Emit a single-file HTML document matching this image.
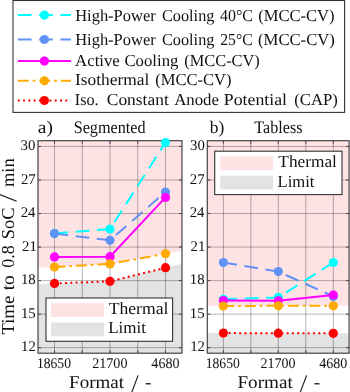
<!DOCTYPE html><html><head><meta charset="utf-8"><style>html,body{margin:0;padding:0;background:#fff;overflow:hidden;}svg{display:block;will-change:transform;}text{font-family:"Liberation Serif", serif;fill:#111;text-rendering:geometricPrecision;}</style></head><body>
<svg width="350" height="392" viewBox="0 0 350 392">
<clipPath id="cl"><rect x="38.0" y="140.7" width="144.00" height="212.50"/></clipPath>
<g clip-path="url(#cl)">
<polygon points="38.0,138.7 38.00,267.92 54.50,267.00 110.00,263.90 165.50,253.80 182.00,250.80 182.0,138.7" fill="#ffe3e4"/>
<polygon points="38.0,355.2 38.00,284.02 54.50,283.40 110.00,281.30 165.50,267.70 182.00,263.66 182.0,355.2" fill="#e3e3e3"/>
<line x1="54.50" y1="140.7" x2="54.50" y2="353.2" stroke="#000" stroke-opacity="0.3" stroke-width="1"/>
<line x1="82.25" y1="140.7" x2="82.25" y2="353.2" stroke="#000" stroke-opacity="0.3" stroke-width="1"/>
<line x1="110.00" y1="140.7" x2="110.00" y2="353.2" stroke="#000" stroke-opacity="0.3" stroke-width="1"/>
<line x1="137.75" y1="140.7" x2="137.75" y2="353.2" stroke="#000" stroke-opacity="0.3" stroke-width="1"/>
<line x1="165.50" y1="140.7" x2="165.50" y2="353.2" stroke="#000" stroke-opacity="0.3" stroke-width="1"/>
<line x1="38.0" y1="146.45" x2="182.0" y2="146.45" stroke="#000" stroke-opacity="0.3" stroke-width="1"/>
<line x1="38.0" y1="179.99" x2="182.0" y2="179.99" stroke="#000" stroke-opacity="0.3" stroke-width="1"/>
<line x1="38.0" y1="213.53" x2="182.0" y2="213.53" stroke="#000" stroke-opacity="0.3" stroke-width="1"/>
<line x1="38.0" y1="247.07" x2="182.0" y2="247.07" stroke="#000" stroke-opacity="0.3" stroke-width="1"/>
<line x1="38.0" y1="280.61" x2="182.0" y2="280.61" stroke="#000" stroke-opacity="0.3" stroke-width="1"/>
<line x1="38.0" y1="314.15" x2="182.0" y2="314.15" stroke="#000" stroke-opacity="0.3" stroke-width="1"/>
<line x1="38.0" y1="347.69" x2="182.0" y2="347.69" stroke="#000" stroke-opacity="0.3" stroke-width="1"/>
<polyline points="54.50,233.40 110.00,229.00 165.50,142.60" fill="none" stroke="#00ffff" stroke-width="2.0" stroke-dasharray="13.7 7.6"/>
<polyline points="54.50,233.60 110.00,240.30 165.50,192.00" fill="none" stroke="#6092f6" stroke-width="2.0" stroke-dasharray="13.7 7.6"/>
<polyline points="54.50,256.90 110.00,256.70 165.50,197.40" fill="none" stroke="#ff00ff" stroke-width="2.0"/>
<polyline points="54.50,267.00 110.00,263.90 165.50,253.80" fill="none" stroke="#ffaa00" stroke-width="2.0" stroke-dasharray="10.9 4.0 2.6 4.0"/>
<polyline points="54.50,283.40 110.00,281.30 165.50,267.70" fill="none" stroke="#ff0000" stroke-width="2.0" stroke-dasharray="2 3.27"/>
</g>
<line x1="54.50" y1="140.7" x2="54.50" y2="143.7" stroke="#444" stroke-width="1"/>
<line x1="54.50" y1="353.2" x2="54.50" y2="350.2" stroke="#444" stroke-width="1"/>
<line x1="82.25" y1="140.7" x2="82.25" y2="143.7" stroke="#444" stroke-width="1"/>
<line x1="82.25" y1="353.2" x2="82.25" y2="350.2" stroke="#444" stroke-width="1"/>
<line x1="110.00" y1="140.7" x2="110.00" y2="143.7" stroke="#444" stroke-width="1"/>
<line x1="110.00" y1="353.2" x2="110.00" y2="350.2" stroke="#444" stroke-width="1"/>
<line x1="137.75" y1="140.7" x2="137.75" y2="143.7" stroke="#444" stroke-width="1"/>
<line x1="137.75" y1="353.2" x2="137.75" y2="350.2" stroke="#444" stroke-width="1"/>
<line x1="165.50" y1="140.7" x2="165.50" y2="143.7" stroke="#444" stroke-width="1"/>
<line x1="165.50" y1="353.2" x2="165.50" y2="350.2" stroke="#444" stroke-width="1"/>
<line x1="38.0" y1="146.45" x2="41.0" y2="146.45" stroke="#444" stroke-width="1"/>
<line x1="182.0" y1="146.45" x2="179.0" y2="146.45" stroke="#444" stroke-width="1"/>
<line x1="38.0" y1="179.99" x2="41.0" y2="179.99" stroke="#444" stroke-width="1"/>
<line x1="182.0" y1="179.99" x2="179.0" y2="179.99" stroke="#444" stroke-width="1"/>
<line x1="38.0" y1="213.53" x2="41.0" y2="213.53" stroke="#444" stroke-width="1"/>
<line x1="182.0" y1="213.53" x2="179.0" y2="213.53" stroke="#444" stroke-width="1"/>
<line x1="38.0" y1="247.07" x2="41.0" y2="247.07" stroke="#444" stroke-width="1"/>
<line x1="182.0" y1="247.07" x2="179.0" y2="247.07" stroke="#444" stroke-width="1"/>
<line x1="38.0" y1="280.61" x2="41.0" y2="280.61" stroke="#444" stroke-width="1"/>
<line x1="182.0" y1="280.61" x2="179.0" y2="280.61" stroke="#444" stroke-width="1"/>
<line x1="38.0" y1="314.15" x2="41.0" y2="314.15" stroke="#444" stroke-width="1"/>
<line x1="182.0" y1="314.15" x2="179.0" y2="314.15" stroke="#444" stroke-width="1"/>
<line x1="38.0" y1="347.69" x2="41.0" y2="347.69" stroke="#444" stroke-width="1"/>
<line x1="182.0" y1="347.69" x2="179.0" y2="347.69" stroke="#444" stroke-width="1"/>
<rect x="38.0" y="140.7" width="144.00" height="212.50" fill="none" stroke="#444" stroke-width="1.2"/>
<circle cx="54.50" cy="233.40" r="4.6" fill="#00ffff"/>
<circle cx="110.00" cy="229.00" r="4.6" fill="#00ffff"/>
<circle cx="165.50" cy="142.60" r="4.6" fill="#00ffff"/>
<circle cx="54.50" cy="233.60" r="4.6" fill="#6092f6"/>
<circle cx="110.00" cy="240.30" r="4.6" fill="#6092f6"/>
<circle cx="165.50" cy="192.00" r="4.6" fill="#6092f6"/>
<circle cx="54.50" cy="256.90" r="4.6" fill="#ff00ff"/>
<circle cx="110.00" cy="256.70" r="4.6" fill="#ff00ff"/>
<circle cx="165.50" cy="197.40" r="4.6" fill="#ff00ff"/>
<circle cx="54.50" cy="267.00" r="4.6" fill="#ffaa00"/>
<circle cx="110.00" cy="263.90" r="4.6" fill="#ffaa00"/>
<circle cx="165.50" cy="253.80" r="4.6" fill="#ffaa00"/>
<circle cx="54.50" cy="283.40" r="4.6" fill="#ff0000"/>
<circle cx="110.00" cy="281.30" r="4.6" fill="#ff0000"/>
<circle cx="165.50" cy="267.70" r="4.6" fill="#ff0000"/>
<clipPath id="cr"><rect x="207.3" y="140.7" width="141.80" height="212.50"/></clipPath>
<g clip-path="url(#cr)">
<polygon points="207.3,138.7 207.30,306.06 223.40,306.00 278.30,305.80 333.30,305.80 349.10,305.80 349.1,138.7" fill="#ffe3e4"/>
<polygon points="207.3,355.2 207.30,333.07 223.40,333.10 278.30,333.20 333.30,333.30 349.10,333.33 349.1,355.2" fill="#e3e3e3"/>
<line x1="223.40" y1="140.7" x2="223.40" y2="353.2" stroke="#000" stroke-opacity="0.3" stroke-width="1"/>
<line x1="250.85" y1="140.7" x2="250.85" y2="353.2" stroke="#000" stroke-opacity="0.3" stroke-width="1"/>
<line x1="278.30" y1="140.7" x2="278.30" y2="353.2" stroke="#000" stroke-opacity="0.3" stroke-width="1"/>
<line x1="305.80" y1="140.7" x2="305.80" y2="353.2" stroke="#000" stroke-opacity="0.3" stroke-width="1"/>
<line x1="333.30" y1="140.7" x2="333.30" y2="353.2" stroke="#000" stroke-opacity="0.3" stroke-width="1"/>
<line x1="207.3" y1="146.45" x2="349.1" y2="146.45" stroke="#000" stroke-opacity="0.3" stroke-width="1"/>
<line x1="207.3" y1="179.99" x2="349.1" y2="179.99" stroke="#000" stroke-opacity="0.3" stroke-width="1"/>
<line x1="207.3" y1="213.53" x2="349.1" y2="213.53" stroke="#000" stroke-opacity="0.3" stroke-width="1"/>
<line x1="207.3" y1="247.07" x2="349.1" y2="247.07" stroke="#000" stroke-opacity="0.3" stroke-width="1"/>
<line x1="207.3" y1="280.61" x2="349.1" y2="280.61" stroke="#000" stroke-opacity="0.3" stroke-width="1"/>
<line x1="207.3" y1="314.15" x2="349.1" y2="314.15" stroke="#000" stroke-opacity="0.3" stroke-width="1"/>
<line x1="207.3" y1="347.69" x2="349.1" y2="347.69" stroke="#000" stroke-opacity="0.3" stroke-width="1"/>
<polyline points="223.40,299.30 278.30,297.40 333.30,262.50" fill="none" stroke="#00ffff" stroke-width="2.0" stroke-dasharray="13.7 7.6"/>
<polyline points="223.40,262.60 278.30,271.60 333.30,296.40" fill="none" stroke="#6092f6" stroke-width="2.0" stroke-dasharray="13.7 7.6"/>
<polyline points="223.40,300.50 278.30,300.80 333.30,295.00" fill="none" stroke="#ff00ff" stroke-width="2.0"/>
<polyline points="223.40,306.00 278.30,305.80 333.30,305.80" fill="none" stroke="#ffaa00" stroke-width="2.0" stroke-dasharray="10.9 4.0 2.6 4.0"/>
<polyline points="223.40,333.10 278.30,333.20 333.30,333.30" fill="none" stroke="#ff0000" stroke-width="2.0" stroke-dasharray="2 3.27"/>
</g>
<line x1="223.40" y1="140.7" x2="223.40" y2="143.7" stroke="#444" stroke-width="1"/>
<line x1="223.40" y1="353.2" x2="223.40" y2="350.2" stroke="#444" stroke-width="1"/>
<line x1="250.85" y1="140.7" x2="250.85" y2="143.7" stroke="#444" stroke-width="1"/>
<line x1="250.85" y1="353.2" x2="250.85" y2="350.2" stroke="#444" stroke-width="1"/>
<line x1="278.30" y1="140.7" x2="278.30" y2="143.7" stroke="#444" stroke-width="1"/>
<line x1="278.30" y1="353.2" x2="278.30" y2="350.2" stroke="#444" stroke-width="1"/>
<line x1="305.80" y1="140.7" x2="305.80" y2="143.7" stroke="#444" stroke-width="1"/>
<line x1="305.80" y1="353.2" x2="305.80" y2="350.2" stroke="#444" stroke-width="1"/>
<line x1="333.30" y1="140.7" x2="333.30" y2="143.7" stroke="#444" stroke-width="1"/>
<line x1="333.30" y1="353.2" x2="333.30" y2="350.2" stroke="#444" stroke-width="1"/>
<line x1="207.3" y1="146.45" x2="210.3" y2="146.45" stroke="#444" stroke-width="1"/>
<line x1="349.1" y1="146.45" x2="346.1" y2="146.45" stroke="#444" stroke-width="1"/>
<line x1="207.3" y1="179.99" x2="210.3" y2="179.99" stroke="#444" stroke-width="1"/>
<line x1="349.1" y1="179.99" x2="346.1" y2="179.99" stroke="#444" stroke-width="1"/>
<line x1="207.3" y1="213.53" x2="210.3" y2="213.53" stroke="#444" stroke-width="1"/>
<line x1="349.1" y1="213.53" x2="346.1" y2="213.53" stroke="#444" stroke-width="1"/>
<line x1="207.3" y1="247.07" x2="210.3" y2="247.07" stroke="#444" stroke-width="1"/>
<line x1="349.1" y1="247.07" x2="346.1" y2="247.07" stroke="#444" stroke-width="1"/>
<line x1="207.3" y1="280.61" x2="210.3" y2="280.61" stroke="#444" stroke-width="1"/>
<line x1="349.1" y1="280.61" x2="346.1" y2="280.61" stroke="#444" stroke-width="1"/>
<line x1="207.3" y1="314.15" x2="210.3" y2="314.15" stroke="#444" stroke-width="1"/>
<line x1="349.1" y1="314.15" x2="346.1" y2="314.15" stroke="#444" stroke-width="1"/>
<line x1="207.3" y1="347.69" x2="210.3" y2="347.69" stroke="#444" stroke-width="1"/>
<line x1="349.1" y1="347.69" x2="346.1" y2="347.69" stroke="#444" stroke-width="1"/>
<rect x="207.3" y="140.7" width="141.80" height="212.50" fill="none" stroke="#444" stroke-width="1.2"/>
<circle cx="223.40" cy="299.30" r="4.6" fill="#00ffff"/>
<circle cx="278.30" cy="297.40" r="4.6" fill="#00ffff"/>
<circle cx="333.30" cy="262.50" r="4.6" fill="#00ffff"/>
<circle cx="223.40" cy="262.60" r="4.6" fill="#6092f6"/>
<circle cx="278.30" cy="271.60" r="4.6" fill="#6092f6"/>
<circle cx="333.30" cy="296.40" r="4.6" fill="#6092f6"/>
<circle cx="223.40" cy="300.50" r="4.6" fill="#ff00ff"/>
<circle cx="278.30" cy="300.80" r="4.6" fill="#ff00ff"/>
<circle cx="333.30" cy="295.00" r="4.6" fill="#ff00ff"/>
<circle cx="223.40" cy="306.00" r="4.6" fill="#ffaa00"/>
<circle cx="278.30" cy="305.80" r="4.6" fill="#ffaa00"/>
<circle cx="333.30" cy="305.80" r="4.6" fill="#ffaa00"/>
<circle cx="223.40" cy="333.10" r="4.6" fill="#ff0000"/>
<circle cx="278.30" cy="333.20" r="4.6" fill="#ff0000"/>
<circle cx="333.30" cy="333.30" r="4.6" fill="#ff0000"/>
<rect x="46.0" y="298.0" width="126.60" height="43.30" fill="#fff" stroke="#333" stroke-width="1.1"/>
<rect x="51.1" y="303.10" width="52.90" height="13.8" fill="#ffe3e4"/>
<rect x="51.1" y="322.50" width="52.90" height="13.8" fill="#e3e3e3"/>
<text x="108.75" y="313.60" font-size="17.0" textLength="59.61" lengthAdjust="spacingAndGlyphs">Thermal</text>
<text x="108.16" y="333.10" font-size="17.0" textLength="37.79" lengthAdjust="spacingAndGlyphs">Limit</text>
<rect x="214.7" y="151.2" width="127.30" height="43.40" fill="#fff" stroke="#333" stroke-width="1.1"/>
<rect x="220.2" y="156.30" width="52.90" height="13.8" fill="#ffe3e4"/>
<rect x="220.2" y="175.70" width="52.90" height="13.8" fill="#e3e3e3"/>
<text x="278.32" y="167.00" font-size="17.0" textLength="58.60" lengthAdjust="spacingAndGlyphs">Thermal</text>
<text x="277.50" y="186.50" font-size="17.0" textLength="36.96" lengthAdjust="spacingAndGlyphs">Limit</text>
<text x="20.56" y="150.05" font-size="14.8">30</text>
<text x="190.06" y="150.05" font-size="14.8">30</text>
<text x="20.93" y="183.59" font-size="14.8">27</text>
<text x="189.86" y="183.59" font-size="14.8">27</text>
<text x="20.68" y="217.13" font-size="14.8">24</text>
<text x="189.65" y="217.13" font-size="14.8">24</text>
<text x="22.00" y="250.67" font-size="14.8">21</text>
<text x="190.61" y="250.67" font-size="14.8">21</text>
<text x="20.92" y="284.21" font-size="14.8">18</text>
<text x="189.85" y="284.21" font-size="14.8">18</text>
<text x="20.92" y="317.75" font-size="14.8">15</text>
<text x="189.84" y="317.75" font-size="14.8">15</text>
<text x="21.06" y="351.29" font-size="14.8">12</text>
<text x="190.13" y="351.29" font-size="14.8">12</text>
<text x="36.90" y="368.00" font-size="14.8" textLength="34.08" lengthAdjust="spacingAndGlyphs">18650</text>
<text x="205.71" y="368.00" font-size="14.8" textLength="34.09" lengthAdjust="spacingAndGlyphs">18650</text>
<text x="92.20" y="368.00" font-size="14.8" textLength="35.31" lengthAdjust="spacingAndGlyphs">21700</text>
<text x="260.59" y="368.00" font-size="14.8" textLength="34.91" lengthAdjust="spacingAndGlyphs">21700</text>
<text x="151.35" y="368.00" font-size="14.8" textLength="28.13" lengthAdjust="spacingAndGlyphs">4680</text>
<text x="319.26" y="368.00" font-size="14.8" textLength="28.14" lengthAdjust="spacingAndGlyphs">4680</text>
<text x="69.10" y="388.20" font-size="18.0" textLength="54.90" lengthAdjust="spacingAndGlyphs">Format</text>
<text x="237.46" y="388.20" font-size="18.0" textLength="55.24" lengthAdjust="spacingAndGlyphs">Format</text>
<text x="145.00" y="388.20" font-size="18.0" textLength="6.41" lengthAdjust="spacingAndGlyphs">-</text>
<text x="313.68" y="388.20" font-size="18.0" textLength="6.42" lengthAdjust="spacingAndGlyphs">-</text>
<line x1="138.10" y1="375.4" x2="131.60" y2="392.8" stroke="#111" stroke-width="1.05"/>
<line x1="306.60" y1="375.4" x2="300.10" y2="392.8" stroke="#111" stroke-width="1.05"/>
<text x="37.84" y="132.50" font-size="17.6" textLength="15.12" lengthAdjust="spacingAndGlyphs">a)</text>
<text x="73.70" y="132.50" font-size="17.6" textLength="71.92" lengthAdjust="spacingAndGlyphs">Segmented</text>
<text x="209.77" y="132.50" font-size="17.6" textLength="14.51" lengthAdjust="spacingAndGlyphs">b)</text>
<text x="254.26" y="132.50" font-size="17.6" textLength="48.22" lengthAdjust="spacingAndGlyphs">Tabless</text>
<text transform="translate(13.60,334.59) rotate(-90)" font-size="18.3" textLength="38.79" lengthAdjust="spacingAndGlyphs">Time</text>
<text transform="translate(13.60,290.33) rotate(-90)" font-size="18.3" textLength="15.24" lengthAdjust="spacingAndGlyphs">to</text>
<text transform="translate(13.60,267.73) rotate(-90)" font-size="18.3" textLength="22.47" lengthAdjust="spacingAndGlyphs">0.8</text>
<text transform="translate(13.60,239.30) rotate(-90)" font-size="18.3" textLength="31.80" lengthAdjust="spacingAndGlyphs">SoC</text>
<text transform="translate(13.60,186.97) rotate(-90)" font-size="18.3" textLength="28.60" lengthAdjust="spacingAndGlyphs">min</text>
<line x1="-0.2" y1="194.6" x2="16.6" y2="201.2" stroke="#111" stroke-width="1.05"/>
<rect x="13" y="0.5" width="331.6" height="111.9" fill="#fff" stroke="#333" stroke-width="1.1"/>
<line x1="17.8" y1="15.1" x2="71" y2="15.1" stroke="#00ffff" stroke-width="2.0" stroke-dasharray="13.7 7.6"/>
<circle cx="44.4" cy="15.1" r="4.6" fill="#00ffff"/>
<text x="75.16" y="20.65" font-size="16.7" textLength="80.56" lengthAdjust="spacingAndGlyphs">High-Power</text>
<text x="161.95" y="20.65" font-size="16.7" textLength="52.51" lengthAdjust="spacingAndGlyphs">Cooling</text>
<text x="220.00" y="20.65" font-size="16.7" textLength="32.95" lengthAdjust="spacingAndGlyphs">40°C</text>
<text x="258.13" y="20.65" font-size="16.7" textLength="76.46" lengthAdjust="spacingAndGlyphs">(MCC-CV)</text>
<line x1="17.8" y1="39.5" x2="71" y2="39.5" stroke="#6092f6" stroke-width="2.0" stroke-dasharray="13.7 7.6"/>
<circle cx="44.4" cy="39.5" r="4.6" fill="#6092f6"/>
<text x="75.16" y="44.75" font-size="16.7" textLength="80.56" lengthAdjust="spacingAndGlyphs">High-Power</text>
<text x="161.95" y="44.75" font-size="16.7" textLength="52.51" lengthAdjust="spacingAndGlyphs">Cooling</text>
<text x="220.17" y="44.75" font-size="16.7" textLength="32.55" lengthAdjust="spacingAndGlyphs">25°C</text>
<text x="258.07" y="44.75" font-size="16.7" textLength="76.73" lengthAdjust="spacingAndGlyphs">(MCC-CV)</text>
<line x1="17.8" y1="61.1" x2="71" y2="61.1" stroke="#ff00ff" stroke-width="2.0"/>
<circle cx="44.4" cy="61.1" r="4.6" fill="#ff00ff"/>
<text x="75.09" y="65.60" font-size="16.7" textLength="44.70" lengthAdjust="spacingAndGlyphs">Active</text>
<text x="124.46" y="65.60" font-size="16.7" textLength="53.96" lengthAdjust="spacingAndGlyphs">Cooling</text>
<text x="184.29" y="65.60" font-size="16.7" textLength="75.55" lengthAdjust="spacingAndGlyphs">(MCC-CV)</text>
<line x1="17.8" y1="80.8" x2="71" y2="80.8" stroke="#ffaa00" stroke-width="2.0" stroke-dasharray="10.9 4.0 2.6 4.0"/>
<circle cx="44.4" cy="80.8" r="4.6" fill="#ffaa00"/>
<text x="75.00" y="85.15" font-size="16.7" textLength="74.28" lengthAdjust="spacingAndGlyphs">Isothermal</text>
<text x="155.28" y="85.15" font-size="16.7" textLength="76.17" lengthAdjust="spacingAndGlyphs">(MCC-CV)</text>
<line x1="17.8" y1="100.5" x2="70.3" y2="100.5" stroke="#ff0000" stroke-width="2.0" stroke-dasharray="2 3.27"/>
<circle cx="44.4" cy="100.5" r="4.6" fill="#ff0000"/>
<text x="74.84" y="104.70" font-size="16.7" textLength="23.83" lengthAdjust="spacingAndGlyphs">Iso.</text>
<text x="106.77" y="104.70" font-size="16.7" textLength="62.00" lengthAdjust="spacingAndGlyphs">Constant</text>
<text x="174.15" y="104.70" font-size="16.7" textLength="44.85" lengthAdjust="spacingAndGlyphs">Anode</text>
<text x="223.75" y="104.70" font-size="16.7" textLength="63.25" lengthAdjust="spacingAndGlyphs">Potential</text>
<text x="294.32" y="104.70" font-size="16.7" textLength="43.58" lengthAdjust="spacingAndGlyphs">(CAP)</text>
</svg></body></html>
